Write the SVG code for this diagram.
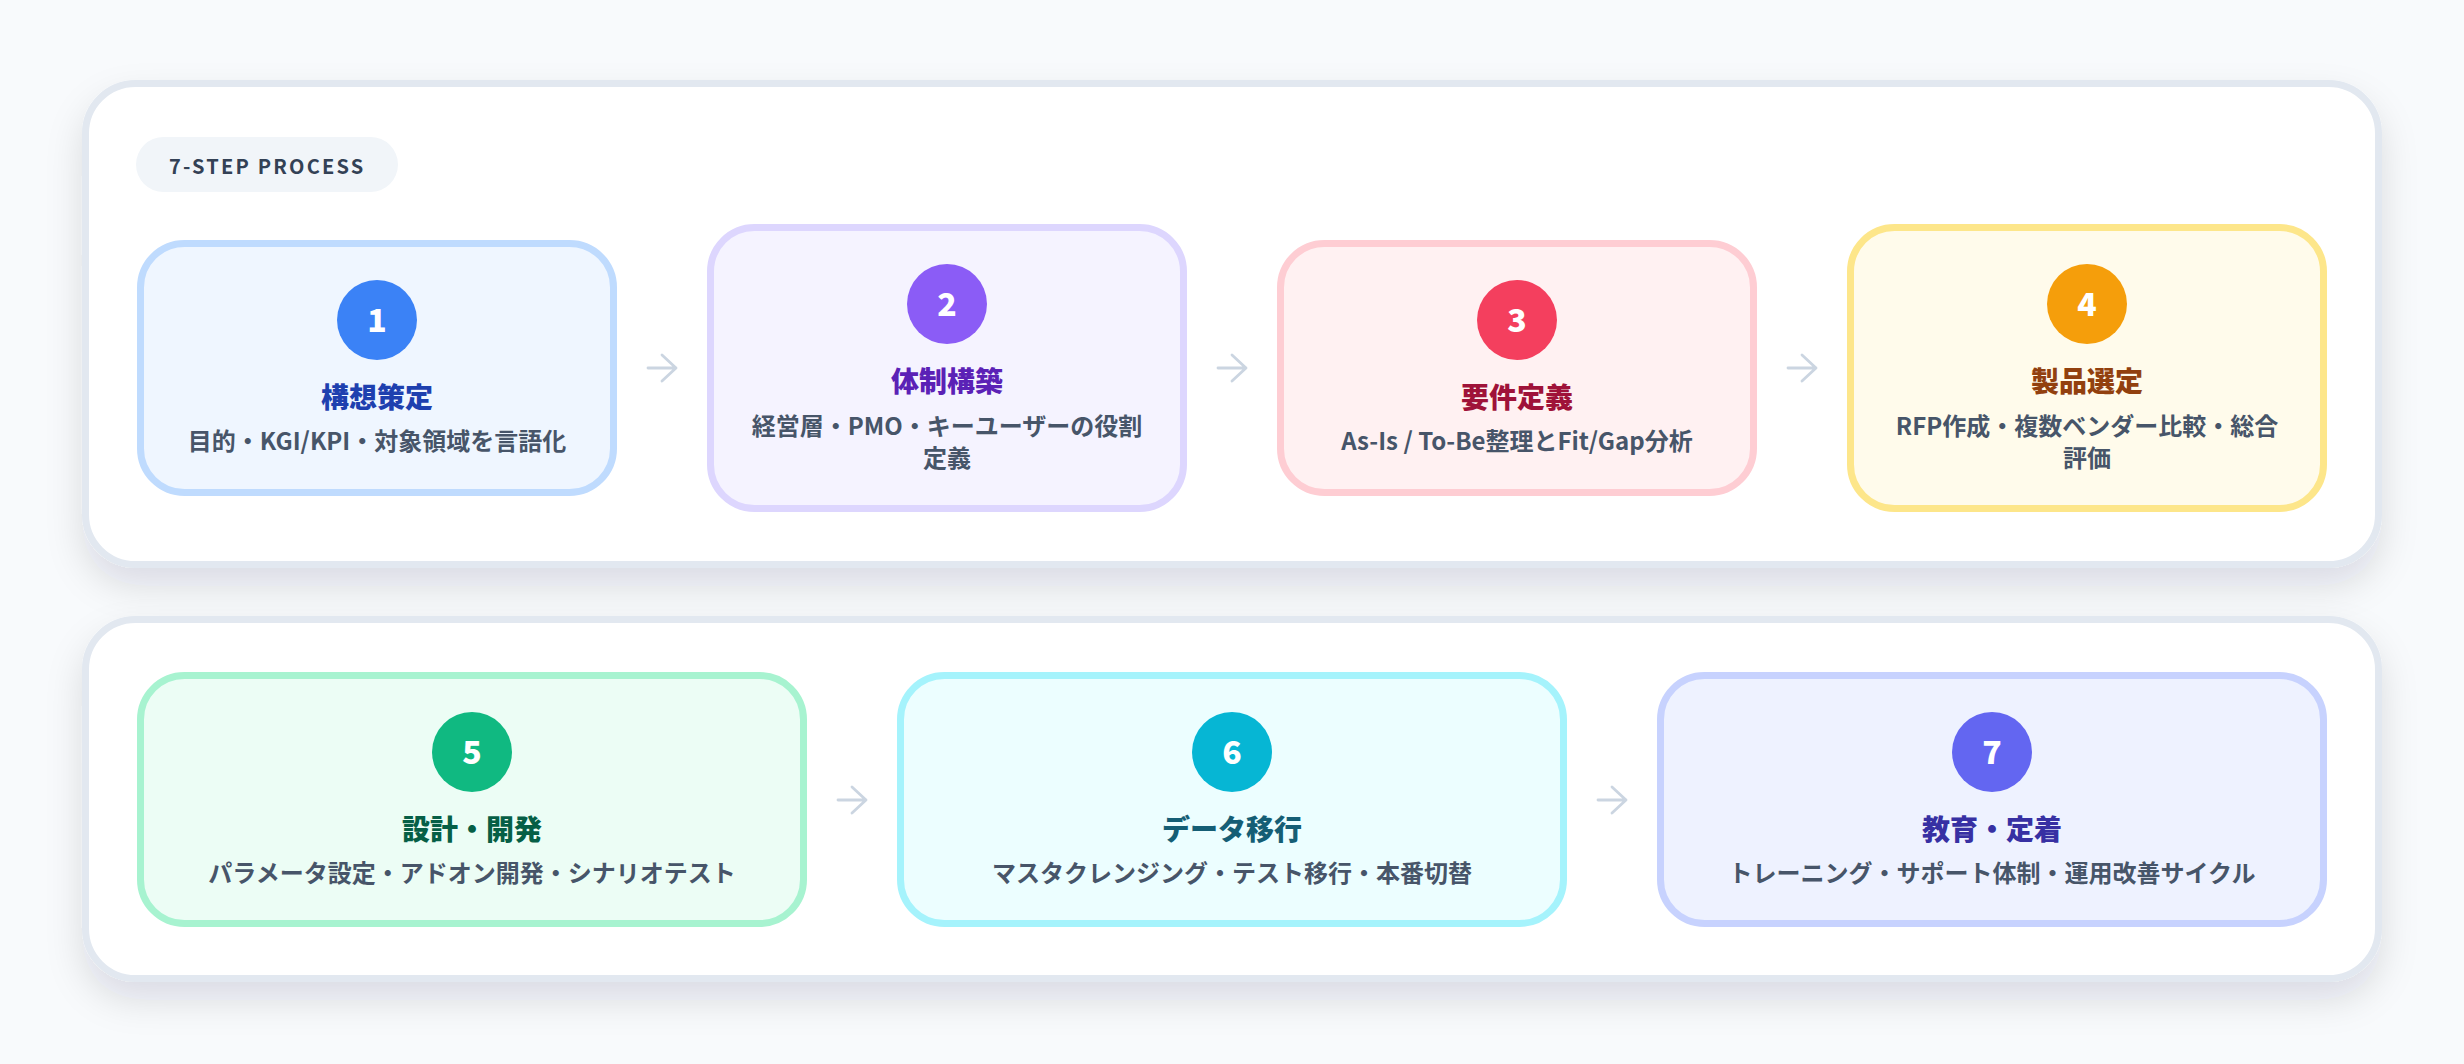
<svg xmlns="http://www.w3.org/2000/svg" width="2464" height="1064" viewBox="0 0 2464 1064">
<defs>
<filter id="shadow" x="-5%" y="-15%" width="110%" height="140%">
<feDropShadow dx="0" dy="18" stdDeviation="18" flood-color="#0f172a" flood-opacity="0.12"/>
</filter>
</defs>
<style>
.panel{fill:#ffffff;stroke:#e2e8f0;stroke-width:7}
.node{stroke-width:7}
.num{font-family:"Noto Sans CJK JP","Noto Sans",sans-serif;font-size:32px;font-weight:800;fill:#ffffff;text-anchor:middle}
.title{font-family:"Noto Sans CJK JP","Noto Sans",sans-serif;font-size:28px;font-weight:900;text-anchor:middle}
.desc{font-family:"Noto Sans CJK JP","Noto Sans",sans-serif;font-size:24px;font-weight:700;fill:#475569;text-anchor:middle}
.badge-text{font-family:"Noto Sans CJK JP","Noto Sans",sans-serif;font-size:20px;font-weight:700;fill:#334155;letter-spacing:2.2px}
.arrow{fill:none;stroke:#cbd5e1;stroke-width:2.8;stroke-linecap:round;stroke-linejoin:round}
</style>
<rect x="0" y="0" width="2464" height="1064" fill="#f8fafc"/>

<g id="panel-top">
<rect class="panel" x="85.5" y="83.5" width="2293" height="481" rx="50" filter="url(#shadow)"/>
</g>
<g id="panel-bottom">
<rect class="panel" x="85.5" y="619.5" width="2293" height="359" rx="50" filter="url(#shadow)"/>
</g>

<g id="badge">
<rect x="136" y="137" width="262" height="55" rx="27.5" fill="#f1f5f9"/>
<text class="badge-text" x="169" y="174">7-STEP PROCESS</text>
</g>

<g id="step1">
<rect class="node" x="140.5" y="243.5" width="473" height="249" rx="44" fill="#eff6ff" stroke="#bfdbfe"/>
<circle cx="377" cy="320" r="40" fill="#3b82f6"/>
<text class="num" x="377" y="332">1</text>
<text class="title" x="377" y="408" fill="#1e40af">構想策定</text>
<text class="desc" x="377" y="450">目的・KGI/KPI・対象領域を言語化</text>
</g>

<g id="step2">
<rect class="node" x="710.5" y="227.5" width="473" height="281" rx="44" fill="#f5f3ff" stroke="#ddd6fe"/>
<circle cx="947" cy="304" r="40" fill="#8b5cf6"/>
<text class="num" x="947" y="316">2</text>
<text class="title" x="947" y="392" fill="#5b21b6">体制構築</text>
<text class="desc" x="947" y="435">経営層・PMO・キーユーザーの役割</text>
<text class="desc" x="947" y="467">定義</text>
</g>

<g id="step3">
<rect class="node" x="1280.5" y="243.5" width="473" height="249" rx="44" fill="#fff1f2" stroke="#fecdd3"/>
<circle cx="1517" cy="320" r="40" fill="#f43f5e"/>
<text class="num" x="1517" y="332">3</text>
<text class="title" x="1517" y="408" fill="#9f1239">要件定義</text>
<text class="desc" x="1517" y="450">As-Is / To-Be整理とFit/Gap分析</text>
</g>

<g id="step4">
<rect class="node" x="1850.5" y="227.5" width="473" height="281" rx="44" fill="#fffbeb" stroke="#fde68a"/>
<circle cx="2087" cy="304" r="40" fill="#f59e0b"/>
<text class="num" x="2087" y="316">4</text>
<text class="title" x="2087" y="392" fill="#92400e">製品選定</text>
<text class="desc" x="2087" y="435">RFP作成・複数ベンダー比較・総合</text>
<text class="desc" x="2087" y="467">評価</text>
</g>

<g id="step5">
<rect class="node" x="140.5" y="675.5" width="663" height="248" rx="44" fill="#ecfdf5" stroke="#a7f3d0"/>
<circle cx="472" cy="752" r="40" fill="#10b981"/>
<text class="num" x="472" y="764">5</text>
<text class="title" x="472" y="840" fill="#065f46">設計・開発</text>
<text class="desc" x="472" y="882">パラメータ設定・アドオン開発・シナリオテスト</text>
</g>

<g id="step6">
<rect class="node" x="900.5" y="675.5" width="663" height="248" rx="44" fill="#ecfeff" stroke="#a5f3fc"/>
<circle cx="1232" cy="752" r="40" fill="#06b6d4"/>
<text class="num" x="1232" y="764">6</text>
<text class="title" x="1232" y="840" fill="#155e75">データ移行</text>
<text class="desc" x="1232" y="882">マスタクレンジング・テスト移行・本番切替</text>
</g>

<g id="step7">
<rect class="node" x="1660.5" y="675.5" width="663" height="248" rx="44" fill="#eef2ff" stroke="#c7d2fe"/>
<circle cx="1992" cy="752" r="40" fill="#6366f1"/>
<text class="num" x="1992" y="764">7</text>
<text class="title" x="1992" y="840" fill="#3730a3">教育・定着</text>
<text class="desc" x="1992" y="882">トレーニング・サポート体制・運用改善サイクル</text>
</g>

<g id="connectors">
<path class="arrow" d="M648 368H676M662 355L676 368L662 381"/>
<path class="arrow" d="M1218 368H1246M1232 355L1246 368L1232 381"/>
<path class="arrow" d="M1788 368H1816M1802 355L1816 368L1802 381"/>
<path class="arrow" d="M838 800H866M852 787L866 800L852 813"/>
<path class="arrow" d="M1598 800H1626M1612 787L1626 800L1612 813"/>
</g>
</svg>
